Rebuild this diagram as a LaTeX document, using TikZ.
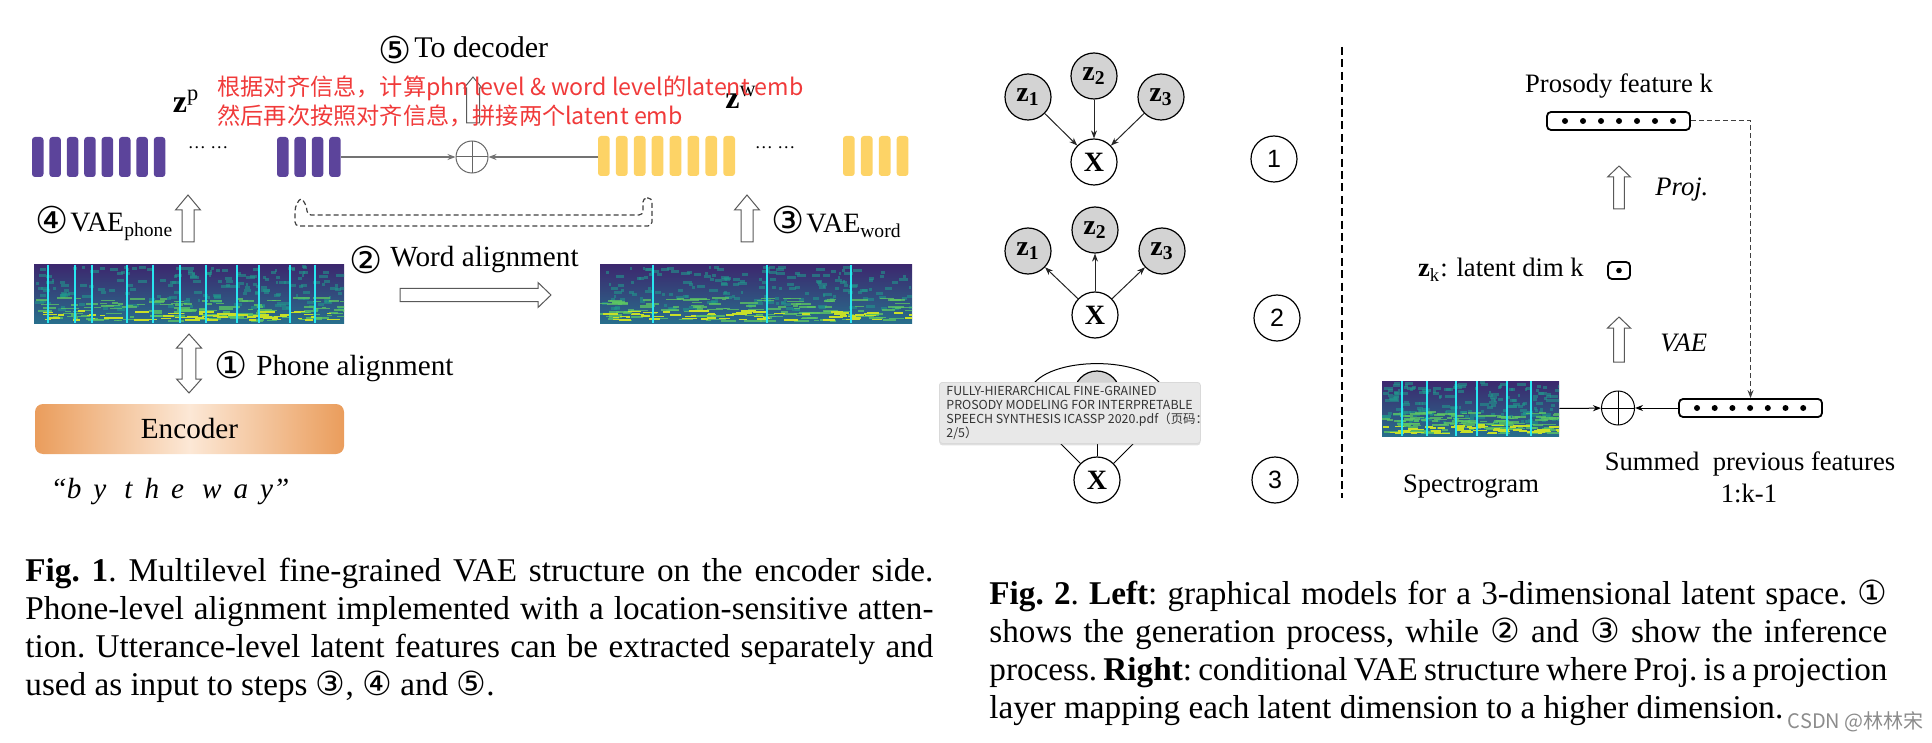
\documentclass[tikz,border=0pt]{standalone}
\usepackage{fontspec}
\setmainfont{Liberation Serif}
\setsansfont{Liberation Sans}
\newfontfamily\cjkfont{Noto Sans CJK SC}
\newfontfamily\circfont{DejaVu Sans}
\usetikzlibrary{arrows.meta,shapes.geometric,shadows}

\definecolor{phonepurple}{RGB}{92,68,155}
\definecolor{wordyellow}{RGB}{253,211,102}
\definecolor{notered}{RGB}{240,58,58}
\definecolor{encorange}{RGB}{234,157,92}
\definecolor{enclight}{RGB}{252,232,214}
\definecolor{spdark}{RGB}{60,40,110}
\definecolor{spblue}{RGB}{40,110,140}
\definecolor{spteal}{RGB}{33,150,140}
\definecolor{spgreen}{RGB}{94,201,98}
\definecolor{spyellow}{RGB}{200,224,40}
\definecolor{spcyan}{RGB}{40,230,240}
\definecolor{latentgray}{RGB}{211,211,211}
\definecolor{tipgray}{RGB}{232,232,232}

\tikzset{
	blockarrow/.style={draw=black!65, fill=white, line width=0.5pt},
	pics/uparrow/.style n args={4}{code={
		\draw[blockarrow] (-#2,0) -- (-#2,-#1+#4) -- (-#3,-#1+#4) -- (0,-#1)
		-- (#3,-#1+#4) -- (#2,-#1+#4) -- (#2,0) -- cycle;
	}},
	pics/rightarrow/.style n args={4}{code={
		\draw[blockarrow] (0,-#2) -- (#1-#4,-#2) -- (#1-#4,-#3) -- (#1,0)
		-- (#1-#4,#3) -- (#1-#4,#2) -- (0,#2) -- cycle;
	}},
	pics/updown/.style n args={4}{code={
		\draw[blockarrow] (0,0) -- (#3,#4) -- (#2,#4) -- (#2,#1-#4) -- (#3,#1-#4)
		-- (0,#1) -- (-#3,#1-#4) -- (-#2,#1-#4) -- (-#2,#4) -- (-#3,#4) -- cycle;
	}},
	pics/spectro/.style n args={3}{code={
		\begin{scope}
			\clip (0,0) rectangle (#1,#2);
			\shade[top color=spdark, bottom color=spblue] (0,0) rectangle (#1,#2);
			\pgfmathsetseed{#1}
			\foreach \k in {1,...,180}{
				\pgfmathsetmacro\spx{rnd*#1}
				\pgfmathsetmacro\spy{rnd*0.75*#2}
				\pgfmathsetmacro\spw{2+rnd*7}
				\fill[spteal, opacity=0.6] (\spx,\spy) rectangle ++(\spw,3);
			}
			\foreach \k in {1,...,130}{
				\pgfmathsetmacro\spx{rnd*#1}
				\pgfmathsetmacro\spy{#2*(0.55+0.4*rnd)}
				\pgfmathsetmacro\spw{4+rnd*14}
				\fill[spgreen, opacity=0.75] (\spx,\spy) rectangle ++(\spw,1.6);
			}
			\foreach \k in {1,...,60}{
				\pgfmathsetmacro\spx{rnd*#1}
				\pgfmathsetmacro\spy{#2*(0.78+0.16*rnd)}
				\pgfmathsetmacro\spw{4+rnd*12}
				\fill[spyellow] (\spx,\spy) rectangle ++(\spw,1.5);
			}
		\end{scope}
		\foreach \c in {#3} \draw[spcyan, line width=1pt] (\c,0) -- (\c,#2);
	}}
}

\begin{document}
\begin{tikzpicture}[x=0.5pt, y=-0.5pt,
	lbl/.style={inner sep=0pt, font=\fontsize{14.6}{16}\selectfont},
	cnum/.style={inner sep=0pt, font=\circfont\fontsize{18.5}{18.5}\selectfont},
	small/.style={inner sep=0pt, font=\fontsize{13.3}{15}\selectfont},
	note/.style={inner sep=0pt, text=notered, font=\cjkfont\fontsize{11.6}{13}\selectfont},
	zlabel/.style={inner sep=0pt, font=\bfseries\fontsize{16}{16}\selectfont},
	phonebar/.style={fill=phonepurple, rounded corners=1.5pt},
	wordbar/.style={fill=wordyellow, rounded corners=1.5pt},
	grayarrow/.style={draw=black!55, line width=0.6pt, -{Stealth[length=4pt,width=3pt]}},
	plus/.style={circle, draw=black!60, line width=0.5pt, inner sep=0pt, minimum size=16pt,
		path picture={\draw[black!60, line width=0.5pt] (path picture bounding box.north) -- (path picture bounding box.south)
			(path picture bounding box.west) -- (path picture bounding box.east);}},
	encoder/.style={rounded corners=4pt, left color=encorange, right color=encorange, middle color=enclight,
		minimum width=154.5pt, minimum height=25pt, inner sep=0pt, font=\fontsize{14.6}{16}\selectfont},
	gnode/.style={circle, draw, line width=0.6pt, minimum size=23pt, inner sep=0pt,
		font=\bfseries\fontsize{14}{14}\selectfont},
	latent/.style={gnode, fill=latentgray},
	stepnum/.style={circle, draw, line width=0.6pt, minimum size=23pt, inner sep=0pt,
		font=\sffamily\fontsize{12.5}{12.5}\selectfont},
	edge/.style={draw=black!85, line width=0.5pt, -{Stealth[length=4pt,width=3pt]}},
	featbox/.style={draw, line width=0.9pt, rounded corners=2pt, minimum width=71.5pt, minimum height=9pt, inner sep=0pt},
	thinarrow/.style={line width=0.5pt, -{Stealth[length=4pt,width=3pt]}},
	dasharrow/.style={draw=black!75, line width=0.5pt, dash pattern=on 2.5pt off 1.5pt, -{Stealth[length=4pt,width=3pt]}},
	sepline/.style={line width=1.1pt, dash pattern=on 4pt off 2.2pt},
	capline/.style={anchor=base west, inner sep=0pt, font=\frenchspacing\fontsize{16.6}{19}\selectfont}]
	\useasboundingbox (0,0) rectangle (1932,743);
	%latent bars
	\foreach \i in {0,...,7} \fill[phonebar] (32+\i*17.4,137) rectangle ++(11.5,40);
	\foreach \i in {0,...,3} \fill[phonebar] (277+\i*17.4,137) rectangle ++(11.5,40);
	\foreach \i in {0,...,7} \fill[wordbar] (598+\i*17.9,136) rectangle ++(11.7,40);
	\foreach \i in {0,...,3} \fill[wordbar] (843+\i*17.9,136) rectangle ++(11.7,40);
	\node[inner sep=0pt, font=\fontsize{9}{9}\selectfont] (pdots) at (208,148) {\dots\ \dots};
	\node[inner sep=0pt, font=\fontsize{9}{9}\selectfont] (wdots) at (775,148) {\dots\ \dots};
	\node[zlabel, anchor=base] (zp) at (186,113) {z\textsuperscript{\mdseries p}};
	\node[zlabel, anchor=base] (zw) at (741,109) {z\textsuperscript{\mdseries w}};
	%sum of both levels
	\coordinate (pend) at (341,157);
	\coordinate (wstart) at (598,157);
	\node[plus] (sumL) at (472,157) {};
	\draw[grayarrow] (pend) -- (sumL);
	\draw[grayarrow] (wstart) -- (sumL);
	\pic at (473,123) {uparrow={46}{6.5}{9}{11}};
	\node[cnum] (num5) at (395,50) {⑤};
	\node[lbl, anchor=base west, font=\fontsize{15}{17}\selectfont] (todec) at (414,58) {To decoder};
	%dashed loop
	\draw[draw=black!75, line width=0.6pt, dash pattern=on 2.5pt off 1.5pt, rounded corners=2pt]
	(643,198) -- (652,198) -- (652,226) -- (295,226) -- (295,207) -- (301,197)
	-- (307,207) -- (307,215) -- (643,215) -- cycle;
	%VAEs
	\node[cnum] (num4) at (52,220) {④};
	\node[lbl, anchor=base west, font=\fontsize{14}{16}\selectfont] (vaep) at (70,232) {VAE\textsubscript{phone}};
	\pic at (188,242) {uparrow={47}{6}{12.5}{15}};
	\node[cnum] (num3) at (788,220) {③};
	\node[lbl, anchor=base west, font=\fontsize{14}{16}\selectfont] (vaew) at (806,233) {VAE\textsubscript{word}};
	\pic at (747,242) {uparrow={47}{6}{12.5}{15}};
	%spectrograms
	\node[minimum width=155pt, minimum height=29pt, inner sep=0pt] (specP) at (189,294) {};
	\pic at (34,265) {spectro={310}{58}{14,41,58,93,119,146,172,203,225,256,281}};
	\node[minimum width=156pt, minimum height=29pt, inner sep=0pt] (specW) at (756,294) {};
	\pic at (600,265) {spectro={312}{58}{53,167,251}};
	\node[cnum] (num2) at (366,260) {②};
	\node[lbl, anchor=base west] (wordal) at (390,267) {Word alignment};
	\pic at (400,295) {rightarrow={151}{6.7}{12.5}{13}};
	\pic at (189,334) {updown={59}{6.8}{12.5}{14}};
	\node[cnum] (num1) at (231,365) {①};
	\node[lbl, anchor=base west] (phoneal) at (256,375) {Phone alignment};
	\node[encoder] (enc) at (189.5,429) {Encoder};
	\node[lbl, anchor=base, font=\itshape\fontsize{14.6}{16}\selectfont] (sent) at (170,498)
	{“b\hspace{6pt}y\hspace{9pt}t\hspace{6pt}h\hspace{6pt}e\hspace{9pt}w\hspace{6pt}a\hspace{6pt}y”};
	%note
	\node[note, anchor=base west] (note1) at (217,96) {根据对齐信息，计算phn level \& word level的latent emb};
	\node[note, anchor=base west] (note2) at (217,125) {然后再次按照对齐信息，拼接两个latent emb};

	%graphical models
	\node[latent] (za1) at (1028,97) {z\textsubscript{1}};
	\node[latent] (za2) at (1094,76) {z\textsubscript{2}};
	\node[latent] (za3) at (1161,97) {z\textsubscript{3}};
	\node[gnode] (xa) at (1094,162) {X};
	\foreach \z in {za1,za2,za3} \draw[edge] (\z) -- (xa);
	\node[stepnum] (numa) at (1274,159) {1};
	\node[latent] (zb1) at (1028,251) {z\textsubscript{1}};
	\node[latent] (zb2) at (1095,230) {z\textsubscript{2}};
	\node[latent] (zb3) at (1162,251) {z\textsubscript{3}};
	\node[gnode] (xb) at (1095,315) {X};
	\foreach \z in {zb1,zb2,zb3} \draw[edge] (xb) -- (\z);
	\node[stepnum] (numb) at (1277,318) {2};
	\node[latent] (zc1) at (1030,413) {z\textsubscript{1}};
	\node[latent] (zc2) at (1097,394) {z\textsubscript{2}};
	\node[latent] (zc3) at (1164,413) {z\textsubscript{3}};
	\node[gnode] (xc) at (1097,480) {X};
	\foreach \z in {zc1,zc2,zc3} \draw[line width=0.5pt] (xc) -- (\z);
	\draw[line width=0.5pt] (zc1.north) .. controls (1045,355) and (1149,355) .. (zc3.north);
	\node[stepnum] (numc) at (1275,480) {3};
	\node[anchor=north west, fill=tipgray, draw=black!15, rounded corners=1.5pt,
	drop shadow={opacity=0.25, shadow xshift=0pt, shadow yshift=-1pt},
	minimum width=130.5pt, minimum height=30.5pt, inner sep=0pt] (tip) at (939,382) {};
	\node[anchor=north west, inner sep=0pt, align=left, text=black!80,
	font=\cjkfont\fontsize{6.2}{7}\selectfont] (tiptext) at (946,386)
	{FULLY-HIERARCHICAL FINE-GRAINED\\PROSODY MODELING FOR INTERPRETABLE\\SPEECH SYNTHESIS ICASSP 2020.pdf（页码：\\2/5）};
	\coordinate (septop) at (1342,47);
	\coordinate (sepbot) at (1342,498);
	\draw[sepline] (septop) -- (sepbot);

	%conditional VAE
	\node[small, anchor=base] (protitle) at (1619,93) {Prosody feature k};
	\node[featbox] (profeat) at (1618.5,121) {};
	\foreach \i in {0,...,6} \fill (1565+\i*18,121) circle[radius=3];
	\pic at (1619,209) {uparrow={43}{5.4}{11.5}{11}};
	\node[small, anchor=base west, font=\itshape\fontsize{13.3}{15}\selectfont] (proj) at (1655,196) {Proj.};
	\node[small, anchor=base east] (zk) at (1584,277) {{\bfseries z}\textsubscript{k}: latent dim k};
	\node[featbox, minimum width=11pt, minimum height=8.5pt] (zkbox) at (1619,270.5) {};
	\fill (zkbox) circle[radius=2.8];
	\pic at (1619,362) {uparrow={45}{5.4}{11.5}{11}};
	\node[small, anchor=base west, font=\itshape\fontsize{13.3}{15}\selectfont] (vae) at (1660,351) {VAE};
	\node[minimum width=88.5pt, minimum height=27.5pt, inner sep=0pt] (specR) at (1470.5,408.5) {};
	\pic at (1382,381) {spectro={177}{55}{20,45,74,95,125,149}};
	\node[ellipse, draw, line width=0.5pt, minimum width=16.5pt, minimum height=17pt, inner sep=0pt,
	path picture={\draw[line width=0.5pt] (path picture bounding box.north) -- (path picture bounding box.south)
		(path picture bounding box.west) -- (path picture bounding box.east);}] (sumR) at (1618,408) {};
	\node[featbox] (sumfeat) at (1750.5,408) {};
	\foreach \i in {0,...,6} \fill (1697+\i*17.7,408) circle[radius=3];
	\draw[thinarrow] (specR.east) -- (sumR);
	\draw[thinarrow] (sumfeat) -- (sumR);
	\draw[dasharrow] (profeat.east) -| (sumfeat.north);
	\node[small, anchor=base] (speclbl) at (1471,492) {Spectrogram};
	\node[small, anchor=base] (sumlbl) at (1750,470) {Summed\ \ previous features};
	\node[small, anchor=base] (rangelbl) at (1749,502) {1:k-1};

	%captions
	\node[capline] (capa1) at (25,581) {\makebox[454pt][s]{\textbf{Fig. 1}. Multilevel fine-grained VAE structure on the encoder side.}};
	\node[capline] (capa2) at (25,619) {\makebox[454pt][s]{Phone-level alignment implemented with a location-sensitive atten-}};
	\node[capline] (capa3) at (25,657) {\makebox[454pt][s]{tion. Utterance-level latent features can be extracted separately and}};
	\node[capline] (capa4) at (25,695) {used as input to steps {\circfont ③}, {\circfont ④} and {\circfont ⑤}.};
	\node[capline] (capb1) at (989,604) {\makebox[449pt][s]{\textbf{Fig. 2}. \textbf{Left}: graphical models for a 3-dimensional latent space. {\circfont ①}}};
	\node[capline] (capb2) at (989,642) {\makebox[449pt][s]{shows the generation process, while {\circfont ②} and {\circfont ③} show the inference}};
	\node[capline] (capb3) at (989,680) {\makebox[449pt][s]{process. \textbf{Right}: conditional VAE structure where Proj. is a projection}};
	\node[capline] (capb4) at (989,718) {layer mapping each latent dimension to a higher dimension.};
	\node[anchor=base east, inner sep=0pt, text=black!45, font=\cjkfont\fontsize{10}{10}\selectfont] (wm) at (1924,728) {CSDN @林林宋};
\end{tikzpicture}
\end{document}
